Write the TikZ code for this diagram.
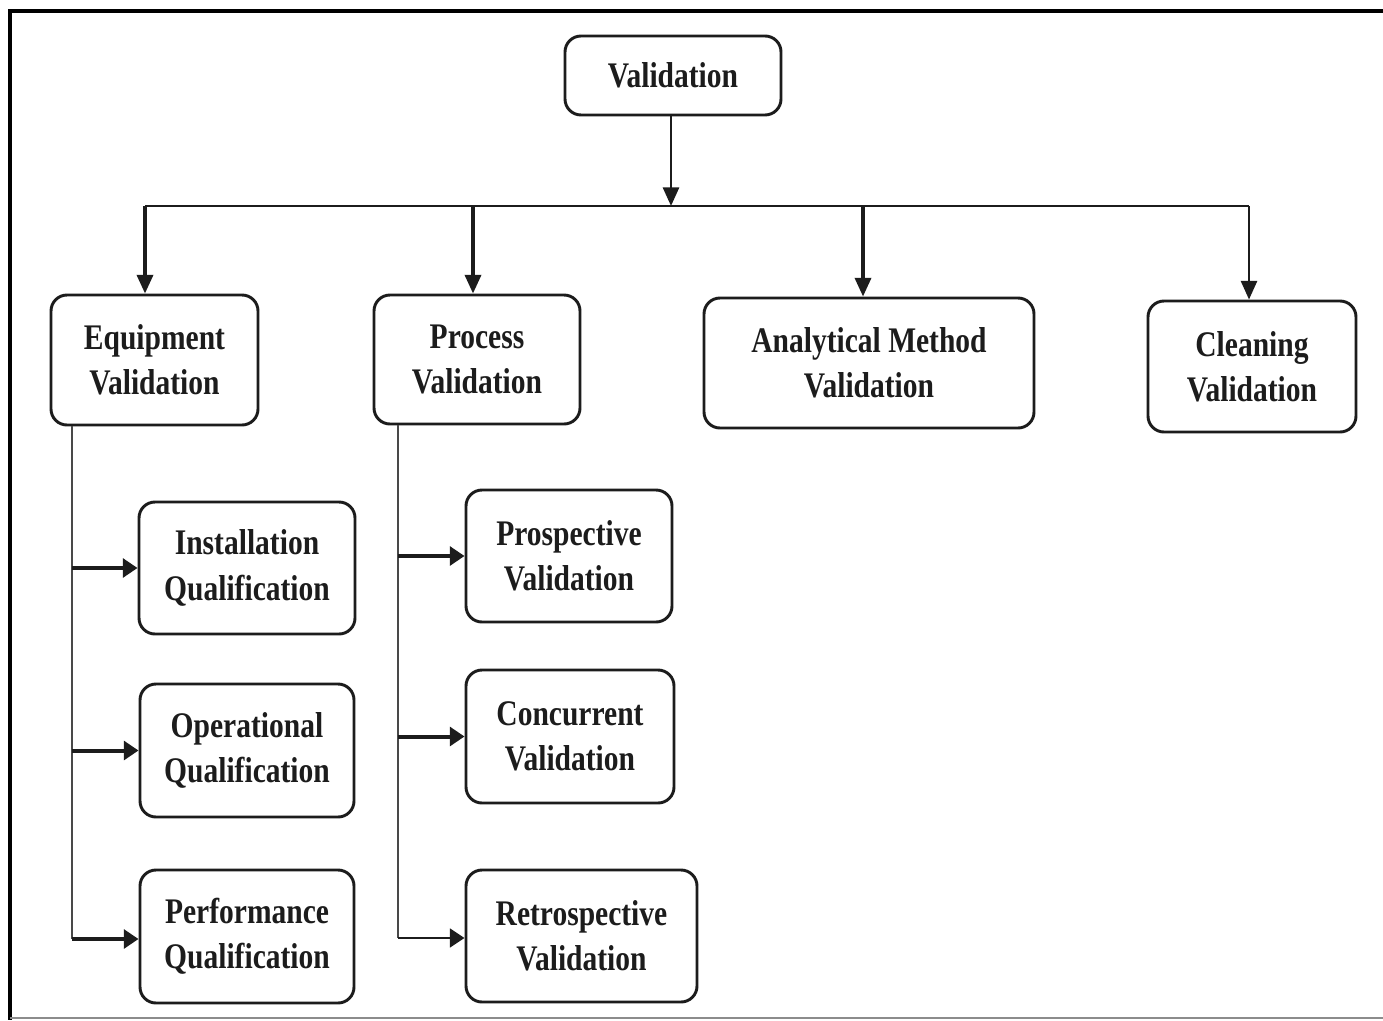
\documentclass[tikz,border=0pt]{standalone}
\usepackage{fontspec}
\newfontfamily\boxfont{Liberation Serif}[FakeStretch=0.82]
\usetikzlibrary{arrows.meta}
\definecolor{ink}{HTML}{1C1C1C}
\newcommand\mkbox[6]{\node[box, minimum width={(#3-#1)*0.75pt}, minimum height={(#4-#2)*0.75pt}] (#5) at ({(#1+#3)/2},{(#2+#4)/2}) {#6};}
\begin{document}
\begin{tikzpicture}[x=0.75pt,y=-0.75pt,
  box/.style={draw=ink, line width=2.2pt, rounded corners=12pt, fill=white,
    align=center, inner sep=2pt, text=ink,
    font=\boxfont\bfseries\fontsize{27pt}{34pt}\selectfont},
  droparr/.style={draw=ink, line width=2.6pt, -{Triangle[length=14pt,width=12pt]}},
  sidearr/.style={draw=ink, line width=3pt, -{Triangle[length=11pt,width=14pt]}},
  busline/.style={draw=ink, line width=1.4pt},
  trunk/.style={draw=ink!80, line width=1.1pt}]
\useasboundingbox (0,0) rectangle (1383,1020);
\fill[white] (0,0) rectangle (1383,1020);
% outer frame
\draw[black, line width=3pt] (1383,11.5) -- (10,11.5) -- (10,1020);
\draw[black!45, line width=1.5pt] (10,1018) -- (1383,1018);
% boxes
\mkbox{565}{36}{781}{115}{val}{Validation}
\mkbox{51}{295}{258}{425}{equip}{Equipment\\Validation}
\mkbox{374}{295}{580}{424}{proc}{Process\\Validation}
\mkbox{704}{298}{1034}{428}{anal}{Analytical Method\\Validation}
\mkbox{1148}{301}{1356}{432}{clean}{Cleaning\\Validation}
\mkbox{139}{502}{355}{634}{inst}{Installation\\Qualification}
\mkbox{140}{684}{354}{817}{oper}{Operational\\Qualification}
\mkbox{140}{870}{354}{1003}{perf}{Performance\\Qualification}
\mkbox{466}{490}{672}{622}{prosp}{Prospective\\Validation}
\mkbox{466}{670}{674}{803}{conc}{Concurrent\\Validation}
\mkbox{466}{870}{697}{1002}{retro}{Retrospective\\Validation}
% bus
\coordinate (bus) at (671,206);
\coordinate (busL) at (145,206);
\coordinate (busP) at (473,206);
\coordinate (busA) at (863,206);
\coordinate (busR) at (1249,206);
\draw[droparr, line width=2.2pt] (val.south -| bus) -- (bus);
\draw[busline] (busL) -- (busR);
\draw[droparr] (busL) -- (busL |- equip.north);
\draw[droparr] (busP) -- (busP |- proc.north);
\draw[droparr] (busA) -- (busA |- anal.north);
\draw[droparr, line width=2pt] (busR) -- (busR |- clean.north);
% equipment branch
\coordinate (eX) at (72,0);
\coordinate (eEnd) at (72,939);
\draw[trunk] (equip.south -| eX) -- (eEnd);
\draw[sidearr] (eX |- inst.west) -- (inst.west);
\draw[sidearr] (eX |- oper.west) -- (oper.west);
\draw[sidearr] (eEnd) -- (eEnd -| perf.west);
% process branch
\coordinate (pX) at (398,0);
\coordinate (pEnd) at (398,938);
\draw[trunk] (proc.south -| pX) -- (pEnd);
\draw[sidearr] (pX |- prosp.west) -- (prosp.west);
\draw[sidearr] (pX |- conc.west) -- (conc.west);
\draw[sidearr, line width=2pt] (pEnd) -- (pEnd -| retro.west);
\end{tikzpicture}
\end{document}
